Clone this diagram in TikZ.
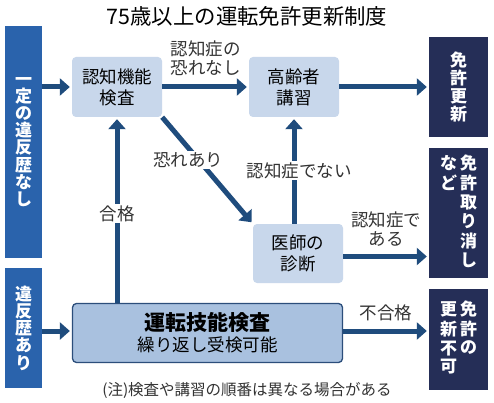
\documentclass[tikz,border=0pt]{standalone}
\usepackage{fontspec}
\setmainfont{Noto Sans CJK JP}
\usetikzlibrary{arrows.meta,positioning,calc}
\definecolor{colArrow}{HTML}{1F4C7D}
\definecolor{colSide}{HTML}{2A63AC}
\definecolor{colEnd}{HTML}{252E57}
\definecolor{colStep}{HTML}{C8D7EB}
\definecolor{colTest}{HTML}{A9C1DF}
\definecolor{colEdge}{HTML}{2C4E7B}
\definecolor{colLbl}{HTML}{333333}
\tikzset{
  sidebox/.style={fill=colSide,text=white,inner sep=0pt,align=center,minimum width=37pt,
    font=\bfseries\fontsize{17}{17.2}\selectfont},
  endbox/.style={fill=colEnd,text=white,inner sep=0pt,align=center,minimum width=59pt,
    font=\bfseries\fontsize{17}{17.8}\selectfont},
  stepbox/.style={fill=colStep,rounded corners=4pt,minimum width=90pt,minimum height=60pt,
    align=center,inner sep=0pt,font=\fontsize{17.5}{21}\selectfont},
  farr/.style={-{Triangle[length=10pt,width=17pt]},line width=5pt,draw=colArrow,shorten >=2pt},
  lbl/.style={text=colLbl,align=center,inner sep=1.5pt,font=\fontsize{17.5}{19}\selectfont},
}
\newcommand{\tcol}[1]{\begin{tabular}[t]{@{}c@{}}#1\end{tabular}}

\begin{document}
\begin{tikzpicture}[x=1pt,y=-1pt]
  \fill[white] (0,0) rectangle (494,403);
  \useasboundingbox (0,0) rectangle (494,403);
  \node[font=\fontsize{21.4}{23}\selectfont] (t) at (247,16.5) {75歳以上の運転免許更新制度};
  \node[sidebox,minimum height=231pt] (nov) at (23.5,142) {一\\定\\の\\違\\反\\歴\\な\\し};
  \node[sidebox,minimum height=120pt] (vio) at (23.5,328) {違\\反\\歴\\あ\\り};
  \node[stepbox] (cog) at (117,87) {認知機能\\検査};
  \node[stepbox] (lec) at (294,87) {高齢者\\講習};
  \node[stepbox,minimum height=59pt] (doc) at (298,253.5) {医師の\\診断};
  \node[stepbox,fill=colTest,draw=colEdge,line width=1.3pt,minimum width=270pt,minimum height=59pt]
    (drv) at (207.5,333)
    {{\bfseries\fontsize{21}{22}\selectfont 運転技能検査}\\{\fontsize{17.5}{22}\selectfont 繰り返し受検可能}};
  \node[endbox,minimum height=100pt] (ren) at (458.5,87) {免\\許\\更\\新};
  \node[endbox,minimum height=130pt] (rev) at (458.5,213)
    {\tcol{な\\ど}\hspace{3pt}\tcol{免\\許\\取\\り\\消\\し}};
  \node[endbox,minimum height=101pt] (nrn) at (458.5,339.5)
    {\tcol{更\\新\\不\\可}\hspace{3pt}\tcol{免\\許\\の}};
  \node[lbl,font=\fontsize{15.5}{16}\selectfont] (n) at (247,390) {(注)検査や講習の順番は異なる場合がある};
  \draw[farr] (nov.east |- cog) -- (cog.west);
  \draw[farr] (cog.east) -- (lec.west) node[lbl,midway,above=7pt] {認知症の\\恐れなし};
  \draw[farr] (lec.east) -- (lec.east -| ren.west);
  \draw[farr] (cog.south east) -- (doc.north west) node[lbl,fill=white,pos=0.4,xshift=-10pt] {恐れあり};
  \draw[farr] (lec.south |- doc.north) -- (lec.south) node[lbl,fill=white,midway,xshift=5pt] {認知症でない};
  \draw[farr] ([yshift=-3pt]doc.east) -- ([yshift=-3pt]doc.east -| rev.west)
    node[lbl,midway,above=6pt] {認知症で\\ある};
  \draw[farr] (cog.south |- drv.north) -- (cog.south) node[lbl,fill=white,pos=0.48] {合格};
  \draw[farr] ([yshift=2pt]vio.east |- drv.west) -- ([yshift=2pt]drv.west);
  \draw[farr] ([yshift=2pt]drv.east) -- ([yshift=2pt]drv.east -| nrn.west)
    node[lbl,midway,above=6pt] {不合格};
\end{tikzpicture}
\end{document}
